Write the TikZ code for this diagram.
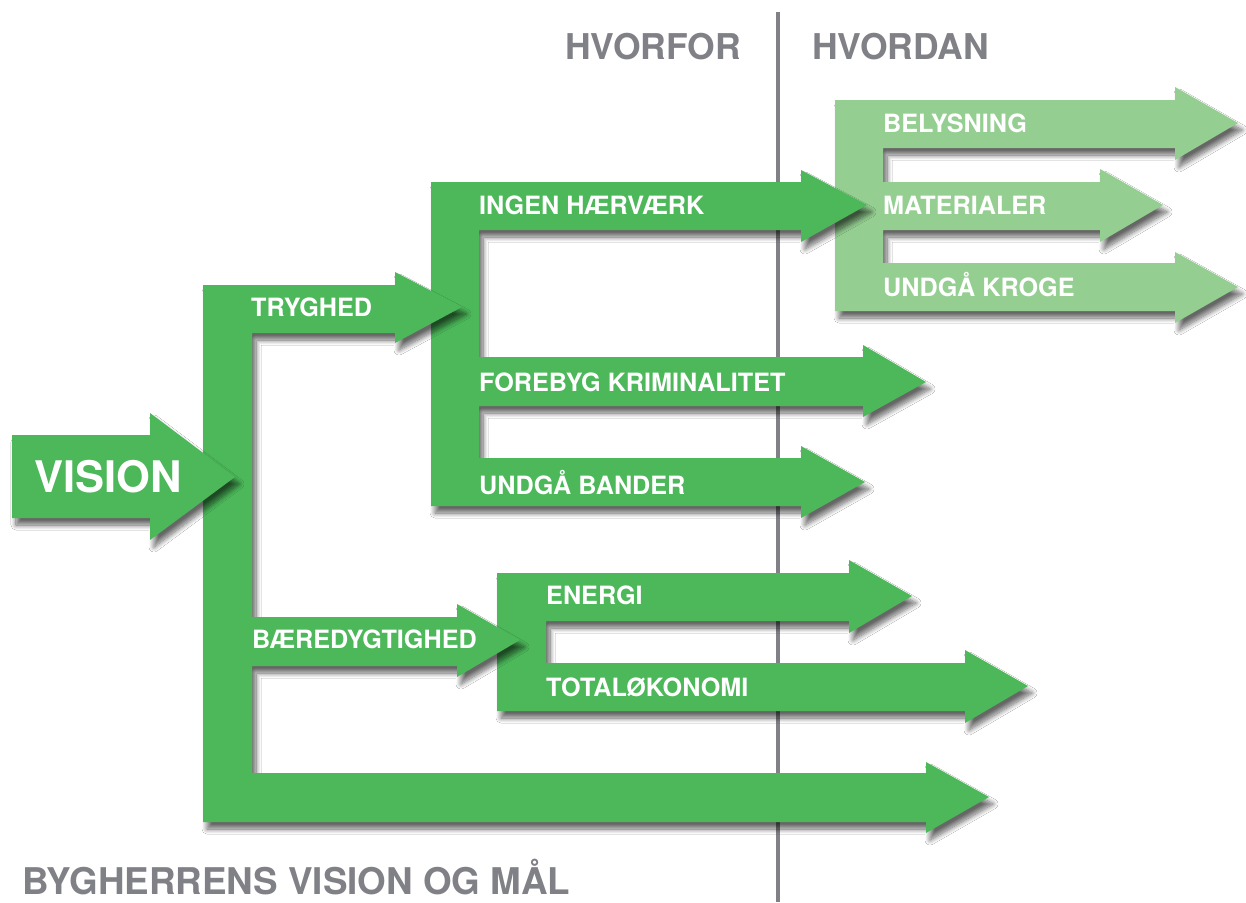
\documentclass[tikz,border=0pt]{standalone}
\usepackage{fontspec}
\setmainfont{TeX Gyre Heros}
\usetikzlibrary{shadows.blur}
\definecolor{dgreen}{RGB}{76,184,90}
\definecolor{lgreen}{RGB}{148,206,145}
\definecolor{tgrey}{RGB}{128,129,134}
\tikzset{
  arrowfill/.style={fill=#1, blur shadow={shadow xshift=4pt, shadow yshift=-7pt,
      shadow blur radius=5pt, shadow blur steps=10, shadow opacity=60}},
  lbl/.style={anchor=base west, inner sep=0pt, text=white,
      font=\bfseries\fontsize{25.2}{28}\selectfont},
  ttl/.style={anchor=base west, inner sep=0pt, text=tgrey,
      font=\bfseries\fontsize{35.5}{40}\selectfont},
  divider/.style={draw=tgrey, line width=3.5pt},
}
\begin{document}
\begin{tikzpicture}[x=1pt,y=-1pt]
\useasboundingbox (0,0) rectangle (1246,902);
\fill[white] (0,0) rectangle (1246,902);
% divider line
\coordinate (dtop) at (778,12);
\coordinate (dbot) at (778,902);
\draw[divider] (dtop) -- (dbot);
% light green group
\path[arrowfill=lgreen] (835,100) -- (1175,100) -- (1175,87) -- (1238,123) -- (1175,160) -- (1175,148)
  -- (883,148) -- (883,182) -- (1100,182) -- (1100,169) -- (1163,205) -- (1100,242) -- (1100,230)
  -- (883,230) -- (883,263) -- (1175,263) -- (1175,252) -- (1238,287) -- (1175,323) -- (1175,311)
  -- (835,311) -- cycle;
% energi group
\path[arrowfill=dgreen] (497,573) -- (849,573) -- (849,560) -- (912,596) -- (849,633) -- (849,621)
  -- (546,621) -- (546,663) -- (965,663) -- (965,650) -- (1028,686) -- (965,723) -- (965,711)
  -- (497,711) -- cycle;
% tryghed group
\path[arrowfill=dgreen] (431,182) -- (801,182) -- (801,170) -- (867,205) -- (801,242) -- (801,230)
  -- (479,230) -- (479,357) -- (863,357) -- (863,345) -- (926,382) -- (863,417) -- (863,406)
  -- (479,406) -- (479,458) -- (801,458) -- (801,446) -- (865,482) -- (801,518) -- (801,506)
  -- (431,506) -- cycle;
% main bracket
\path[arrowfill=dgreen] (203,285) -- (395,285) -- (395,272) -- (462,307) -- (395,343) -- (395,333)
  -- (252,333) -- (252,617) -- (457,617) -- (457,604) -- (520,640) -- (457,677) -- (457,666)
  -- (252,666) -- (252,773) -- (926,773) -- (926,762) -- (989,797) -- (926,833) -- (926,822)
  -- (203,822) -- cycle;
% vision arrow
\path[arrowfill=dgreen] (12,435) -- (150,435) -- (150,413) -- (235,477) -- (150,540) -- (150,518)
  -- (12,518) -- cycle;
% labels
\node[lbl, font=\bfseries\fontsize{43.5}{48}\selectfont] (vision) at (34,492.5) {VISION};
\node[lbl] (tryghed) at (251,316) {TRYGHED};
\node[lbl] (ingen) at (479,214) {INGEN HÆRVÆRK};
\node[lbl] (forebyg) at (479,391) {FOREBYG KRIMINALITET};
\node[lbl] (bander) at (479,494) {UNDGÅ BANDER};
\node[lbl] (baered) at (252,648) {BÆREDYGTIGHED};
\node[lbl] (energi) at (546,604.5) {ENERGI};
\node[lbl] (total) at (546,696) {TOTALØKONOMI};
\node[lbl] (belys) at (883,132.5) {BELYSNING};
\node[lbl] (mater) at (883,214) {MATERIALER};
\node[lbl] (kroge) at (883,296.5) {UNDGÅ KROGE};
% titles
\node[ttl] (hvorfor) at (565,59) {HVORFOR};
\node[ttl] (hvordan) at (812,59) {HVORDAN};
\node[ttl, font=\bfseries\fontsize{36.8}{40}\selectfont] (byg) at (22,894) {BYGHERRENS VISION OG MÅL};
\end{tikzpicture}
\end{document}
